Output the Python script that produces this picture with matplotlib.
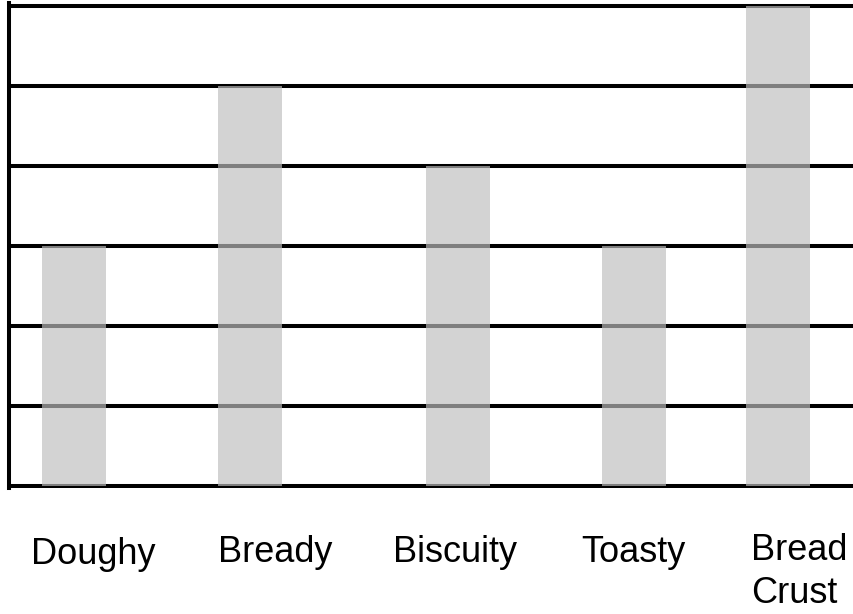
import matplotlib
matplotlib.use("Agg")
import matplotlib.pyplot as plt

# ---- data ----
categories = ["Doughy", "Bready", "Biscuity", "Toasty", "Bread\nCrust"]
values = [3, 5, 4, 3, 6]
grid_levels = [0, 1, 2, 3, 4, 5, 6]

# ---- layout (pixel-based) ----
W, H = 854, 614
bar_pos = [64.5, 240.5, 448.5, 624.5, 768.5]   # bar centres along x axis units
bar_width = 64
label_x = [93.5, 275, 455.5, 633.5, 751]
label_y = [564, 562, 562, 562, 603]
label_ha = ["center", "center", "center", "center", "left"]

plt.rcParams["font.family"] = ["Liberation Sans", "DejaVu Sans"]

fig = plt.figure(figsize=(W / 100, H / 100), dpi=100)
ax_left, ax_right = 9.5, W
ax_bottom_px, ax_top_px = 488.4, 2.8
ax = fig.add_axes([ax_left / W, 1 - ax_bottom_px / H,
                   (ax_right - ax_left) / W, (ax_bottom_px - ax_top_px) / H])

ax.bar(bar_pos, values, width=bar_width, color=(190 / 255,) * 3,
       alpha=0.675, linewidth=0, zorder=3)
for g in grid_levels:
    ax.axhline(g, color="black", linewidth=2.9, zorder=1)

ax.set_xlim(0, ax_right - ax_left)
ax.set_ylim(-0.03, 6.04)
ax.set_xticks([])
ax.set_yticks([])
for s in ["top", "right", "bottom"]:
    ax.spines[s].set_visible(False)
ax.spines["left"].set_linewidth(2.9)
ax.spines["left"].set_color("black")

for lab, x, y, ha in zip(categories, label_x, label_y, label_ha):
    fig.text(x / W, 1 - y / H, lab, ha=ha, va="baseline", fontsize=26,
             linespacing=1.28, multialignment="left")

fig.savefig("out.png", dpi=100)
